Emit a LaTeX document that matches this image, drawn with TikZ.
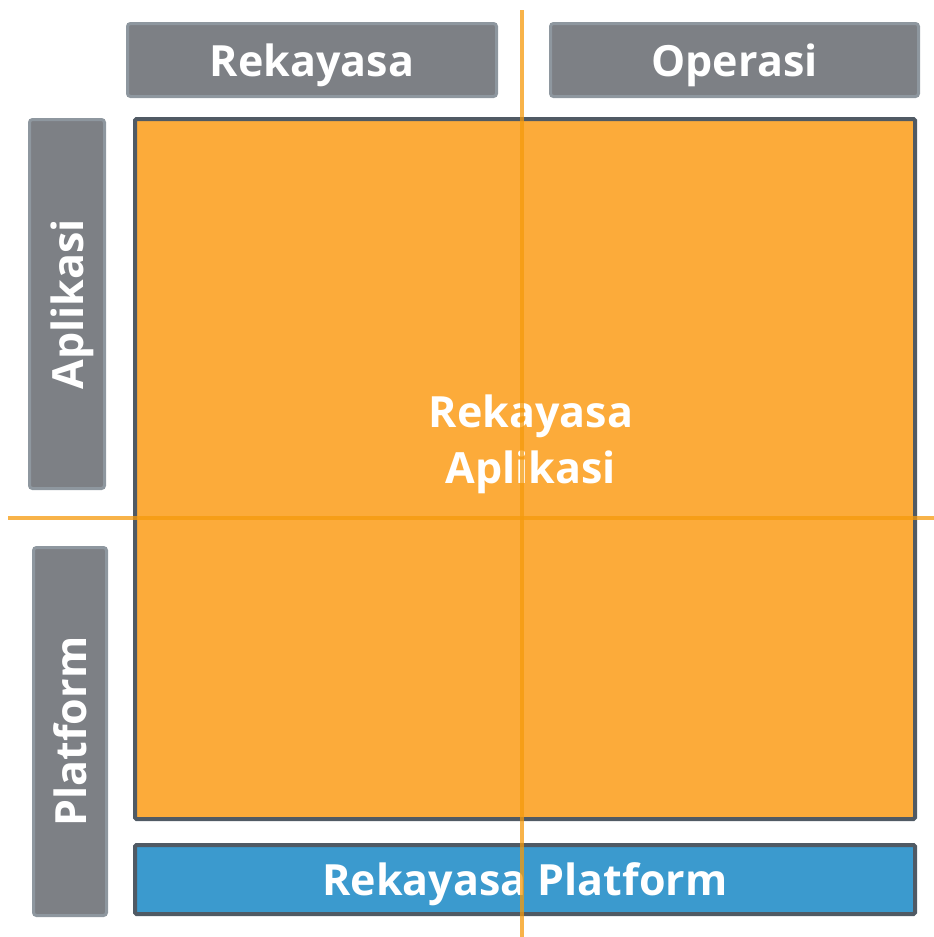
\documentclass[tikz,border=0pt]{standalone}
\usepackage{fontspec}
\setmainfont{Open Sans}
\usetikzlibrary{positioning}

\definecolor{tabgray}{HTML}{7D8085}
\definecolor{tabedge}{HTML}{8E979F}
\definecolor{appfill}{HTML}{FCAB3A}
\definecolor{darkedge}{HTML}{505A64}
\definecolor{platblue}{HTML}{3B9ACE}
\definecolor{axisorange}{HTML}{F59A0C}

\begin{document}
\begin{tikzpicture}[
      x=1pt, y=-1pt,
      tab/.style={draw=tabedge, fill=tabgray, line width=3pt, rounded corners=3pt,
                  text=white, font=\fontsize{43}{48}\selectfont\bfseries, inner sep=0pt,
                  text depth=0pt},
      area/.style={draw=darkedge, line width=4pt, rounded corners=1.5pt, inner sep=0pt,
                   text=white, font=\fontsize{43}{48}\selectfont\bfseries, text depth=0pt},
      lbl/.style={text=white, font=\fontsize{43}{56}\selectfont\bfseries, align=center, inner sep=0pt},
      axis/.style={draw=axisorange, line width=4pt, opacity=0.75}]

    \useasboundingbox (0,0) rectangle (934,937);

    % ============================================
    % column and row headings
    % ============================================
    \node[tab, minimum width=369pt, minimum height=73pt] (reka) at (312, 60) {Rekayasa};
    \node[tab, minimum width=368pt, minimum height=73pt] (ops) at (734.5, 60) {Operasi};
    \node[tab, rotate=90, minimum width=369pt, minimum height=75pt] (apl) at (67, 304) {Aplikasi};
    \node[tab, rotate=90, minimum width=368pt, minimum height=73pt] (plat) at (70, 731.5) {Platform};

    % ============================================
    % quadrants
    % ============================================
    \node[area, fill=appfill, minimum width=780pt, minimum height=700pt] (appeng) at (525, 469) {};
    \node[lbl] (appeng label) at (531, 444) {Rekayasa\\Aplikasi};
    \node[area, fill=platblue, minimum width=780pt, minimum height=69pt] (plateng) at (525, 879.5) {Rekayasa Platform};

    % ============================================
    % axes
    % ============================================
    \coordinate (vtop) at (522, 10);
    \coordinate (vbot) at (522, 937);
    \coordinate (hleft) at (8, 518);
    \coordinate (hright) at (934, 518);
    \draw[axis] (vtop) -- (vbot);
    \draw[axis] (hleft) -- (hright);

\end{tikzpicture}
\end{document}
